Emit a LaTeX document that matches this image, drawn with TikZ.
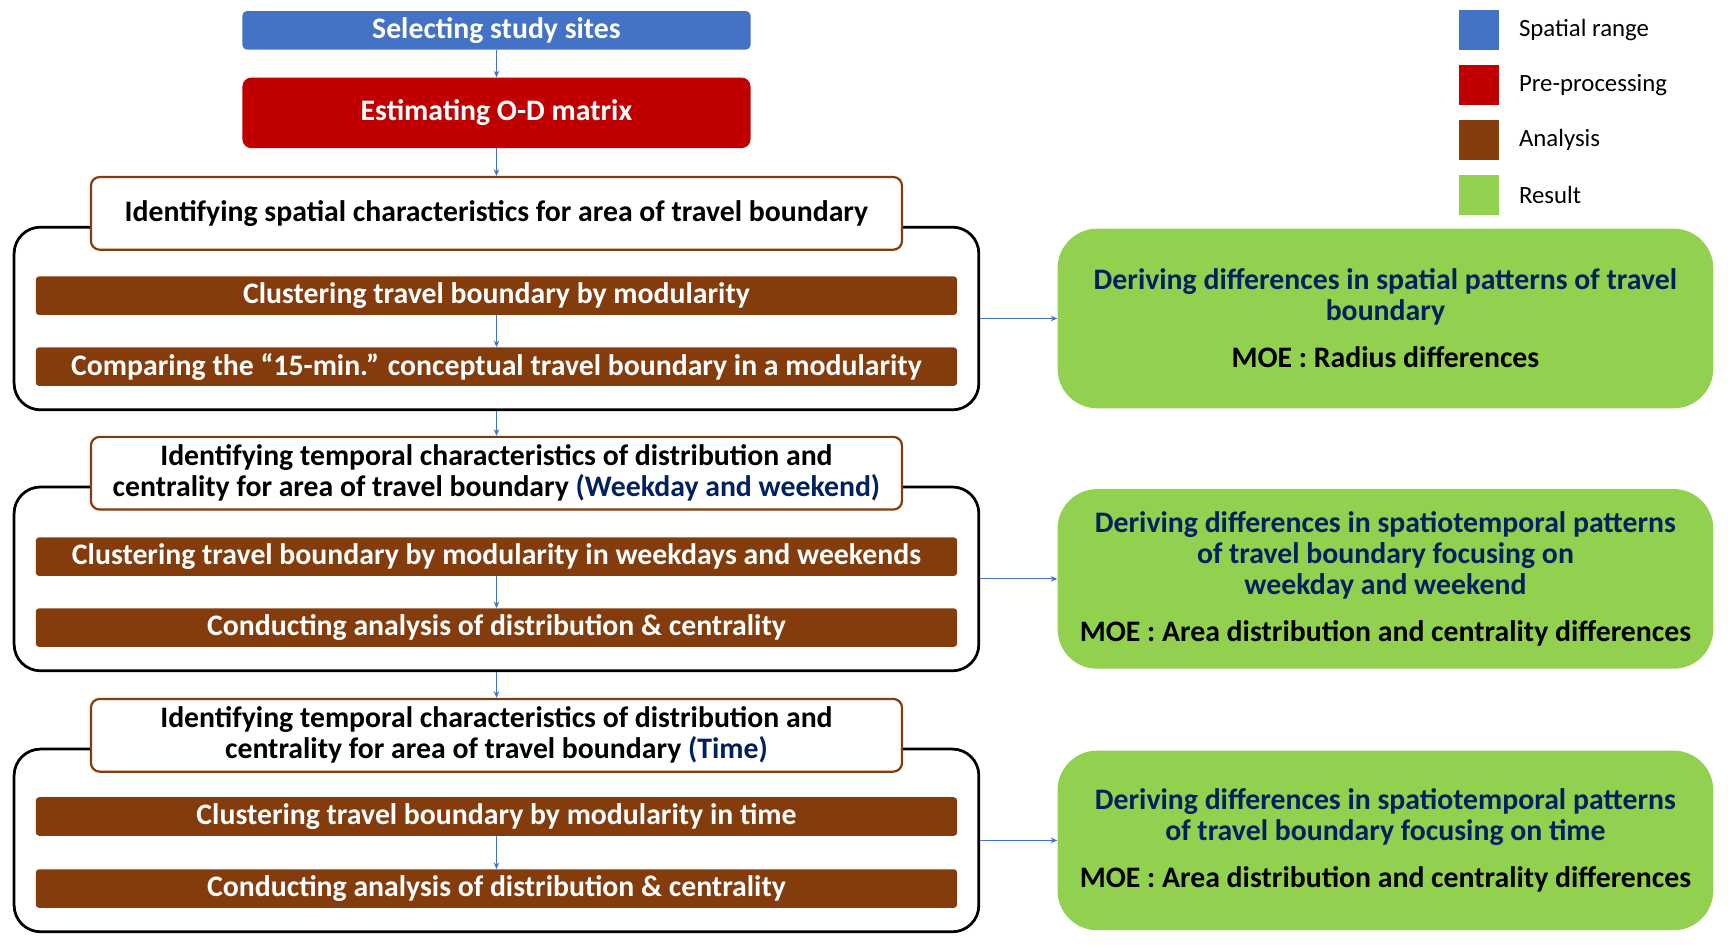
\documentclass[tikz,border=0pt]{standalone}
\usepackage{fontspec}
\setmainfont{Carlito}
\usetikzlibrary{positioning, fit, backgrounds, arrows.meta}

\definecolor{siteblue}{HTML}{4472C4}
\definecolor{prepred}{HTML}{C00000}
\definecolor{anabrown}{HTML}{843C0C}
\definecolor{resgreen}{HTML}{92D050}
\definecolor{resnavy}{HTML}{002060}

\newcommand{\boxfont}{\fontsize{27}{28}\selectfont\bfseries}
\newcommand{\legfont}{\fontsize{22.5}{24}\selectfont}

\begin{document}
\begin{tikzpicture}[x=1pt, y=1pt, >={Stealth[length=6pt,width=5pt]}, font=\boxfont,
    sitebox/.style={fill=siteblue, text=white, rounded corners=4pt, minimum width=461pt, minimum height=35pt, inner sep=0pt},
    prepbox/.style={fill=prepred, text=white, rounded corners=8pt, minimum width=461pt, minimum height=64pt, inner sep=0pt},
    headbox/.style={draw=anabrown, line width=2pt, fill=white, rounded corners=8pt, minimum width=736pt, minimum height=66pt, align=center, inner sep=0pt},
    anabar/.style={fill=anabrown, text=white, rounded corners=3pt, minimum width=836pt, minimum height=35pt, inner sep=0pt},
    grpframe/.style={draw=black, line width=2.5pt, rounded corners=24pt, inner xsep=19.5pt, inner ysep=21.5pt},
    resbox/.style={fill=resgreen, text=resnavy, rounded corners=36pt, minimum width=595pt, minimum height=163pt, align=center, inner sep=0pt},
    legsq/.style={minimum width=36pt, minimum height=36pt, inner sep=0pt},
    leglabel/.style={font=\legfont, inner sep=0pt, anchor=west},
    flow/.style={->, draw=siteblue, line width=1pt}]
    \useasboundingbox (0,0) rectangle (1568,-856.6);

    % main column
    \node[sitebox] (sel) at (450.5,-27.5) {Selecting study sites};
    \node[prepbox, below=25pt of sel] (od) {Estimating O-D matrix};
    \node[headbox, below=25pt of od] (head1) {Identifying spatial characteristics for area of travel boundary};
    \node[anabar, below=23pt of head1] (bar1) {Clustering travel boundary by modularity};
    \node[anabar, below=29pt of bar1] (bar2) {Comparing the “15-min.” conceptual travel boundary in a modularity};

    \node[headbox, below=45pt of bar2] (head2) {Identifying temporal characteristics of distribution and\\centrality for area of travel boundary \textcolor{resnavy}{(Weekday and weekend)}};
    \node[anabar, below=24pt of head2] (bar3) {Clustering travel boundary by modularity in weekdays and weekends};
    \node[anabar, below=29pt of bar3] (bar4) {Conducting analysis of distribution \& centrality};

    \node[headbox, below=46pt of bar4] (head3) {Identifying temporal characteristics of distribution and\\centrality for area of travel boundary \textcolor{resnavy}{(Time)}};
    \node[anabar, below=22pt of head3] (bar5) {Clustering travel boundary by modularity in time};
    \node[anabar, below=30pt of bar5] (bar6) {Conducting analysis of distribution \& centrality};

    % group frames
    \begin{scope}[on background layer]
        \node[grpframe, fit=(head1.south)(bar2)] (frm1) {};
        \node[grpframe, fit=(head2.south)(bar4)] (frm2) {};
        \node[grpframe, fit=(head3.south)(bar6)] (frm3) {};
    \end{scope}

    % results
    \node[resbox, right=70pt of frm1] (res1) {Deriving differences in spatial patterns of travel\\boundary\\[15pt]\textcolor{black}{MOE : Radius differences}};
    \node[resbox, right=70pt of frm2] (res2) {Deriving differences in spatiotemporal patterns\\of travel boundary focusing on\\weekday and weekend\\[15pt]\textcolor{black}{MOE : Area distribution and centrality differences}};
    \node[resbox, right=70pt of frm3] (res3) {Deriving differences in spatiotemporal patterns\\of travel boundary focusing on time\\[15pt]\textcolor{black}{MOE : Area distribution and centrality differences}};

    % legend
    \node[legsq, fill=siteblue] (lg1) at (1342,-27.5) {};
    \node[legsq, fill=prepred, below=13.5pt of lg1] (lg2) {};
    \node[legsq, fill=anabrown, below=13.5pt of lg2] (lg3) {};
    \node[legsq, fill=resgreen, below=13.5pt of lg3] (lg4) {};
    \node[leglabel, right=18pt of lg1] (lt1) {Spatial range};
    \node[leglabel, right=18pt of lg2] (lt2) {Pre-processing};
    \node[leglabel, right=18pt of lg3] (lt3) {Analysis};
    \node[leglabel, right=18pt of lg4] (lt4) {Result};

    \draw[flow] (sel) -- (od);
    \draw[flow] (od) -- (head1);
    \draw[flow] (bar1) -- (bar2);
    \draw[flow] (frm1) -- (head2);
    \draw[flow] (bar3) -- (bar4);
    \draw[flow] (frm2) -- (head3);
    \draw[flow] (bar5) -- (bar6);
    \draw[flow] (frm1) -- (res1);
    \draw[flow] (frm2) -- (res2);
    \draw[flow] (frm3) -- (res3);
\end{tikzpicture}
\end{document}
